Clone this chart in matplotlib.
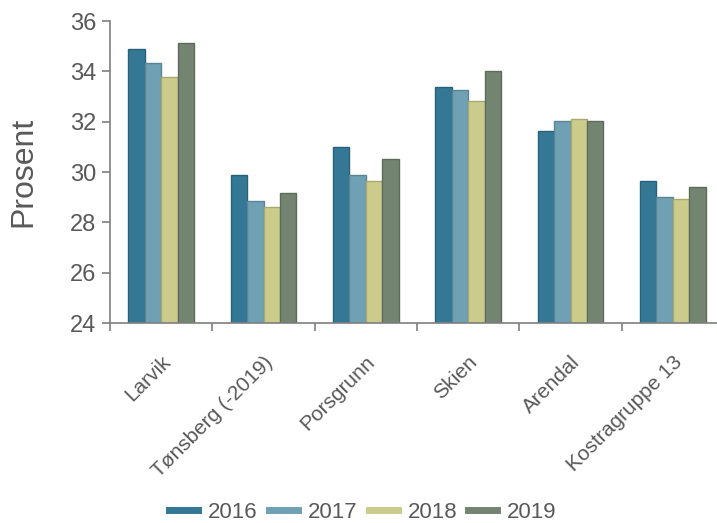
import matplotlib
matplotlib.use("Agg")
import matplotlib.pyplot as plt
import numpy as np
from matplotlib.lines import Line2D

plt.rcParams['font.family'] = ['Liberation Sans', 'DejaVu Sans']

categories = ["Larvik", "Tønsberg (-2019)", "Porsgrunn", "Skien", "Arendal", "Kostragruppe 13"]
years = ["2016", "2017", "2018", "2019"]
v2016 = [34.88, 29.89, 31.0, 33.39, 31.62, 29.64]
v2017 = [34.33, 28.85, 29.89, 33.25, 32.02, 29.0]
v2018 = [33.77, 28.6, 29.64, 32.84, 32.12, 28.92]
v2019 = [35.13, 29.16, 30.51, 34.03, 32.02, 29.4]
series = [v2016, v2017, v2018, v2019]
colors = ["#347896", "#6fa0b4", "#cbcc8c", "#738471"]
edges = ["#2a6178", "#5a8596", "#a8a96e", "#5c6b5a"]

fig = plt.figure(figsize=(7.17, 5.23), dpi=100)
ax = fig.add_axes([110/717, 1-323/523, 614/717, (323-21)/523])

x = np.arange(len(categories))
bw = 0.16
for i, (vals, c, ec) in enumerate(zip(series, colors, edges)):
    ax.bar(x + (i - 1.5) * bw, np.array(vals) - 24, bottom=24, width=bw,
           color=c, edgecolor=ec, linewidth=1.0, label=years[i])

ax.set_ylim(24, 36)
ax.set_xlim(-0.5, len(categories) - 0.5)
ax.set_yticks(np.arange(24, 37, 2))
ax.set_xticks(x + 0.06)
ax.set_xticklabels(categories, rotation=45, ha='right', va='center', rotation_mode='anchor')
ax.set_xticks(np.arange(-0.5, len(categories)), minor=True)
ax.tick_params(axis='x', which='major', length=0, pad=26, labelsize=15, labelcolor='#595959')
ax.tick_params(axis='x', which='minor', length=6, color='#7f7f7f', width=1.2)
ax.tick_params(axis='y', length=6, color='#7f7f7f', width=1.2, labelsize=17, labelcolor='#595959', pad=4)

for s in ['top', 'right']:
    ax.spines[s].set_visible(False)
for s in ['left', 'bottom']:
    ax.spines[s].set_color('#7f7f7f')
    ax.spines[s].set_linewidth(1.2)

fig.text(23/717, 1-172/523, "Prosent", rotation=90, ha='center', va='center',
         fontsize=23, color='#595959')

handles = [Line2D([0], [0], color=c, lw=5) for c in colors]
fig.legend(handles, years, loc='center', bbox_to_anchor=(363/717, 1-512/523), ncol=4,
           frameon=False, fontsize=16, handlelength=1.3, handletextpad=0.45,
           columnspacing=0.5, labelcolor='#595959')

fig.savefig("out.png", dpi=100)
